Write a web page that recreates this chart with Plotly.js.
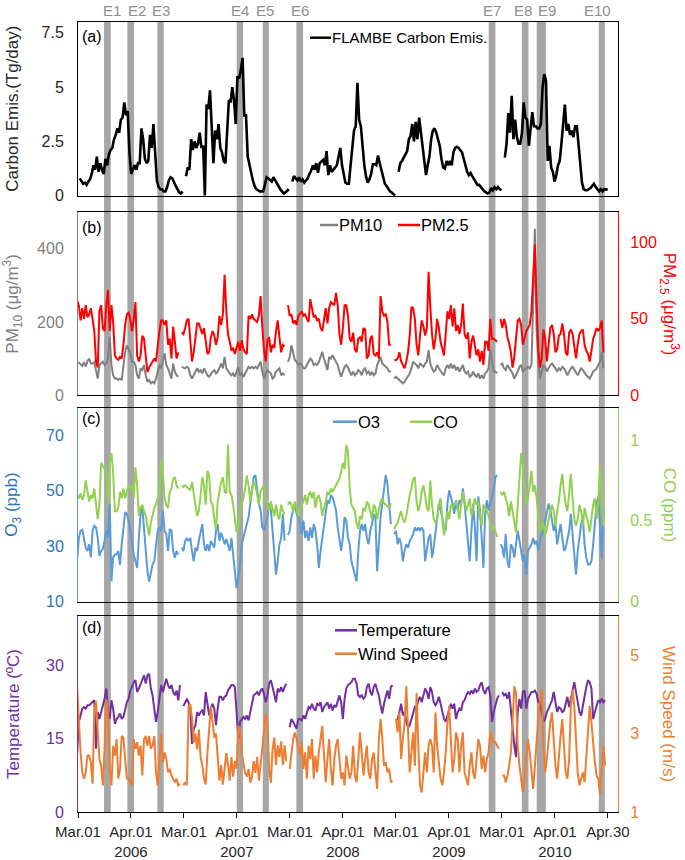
<!DOCTYPE html>
<html><head><meta charset="utf-8">
<script src="https://cdn.plot.ly/plotly-3.0.1.min.js"></script>
<style>html,body{margin:0;padding:0;background:#fff}#chart{width:685px;height:860px}</style>
</head><body><div id="chart"></div>
<script>
// ===================== DATA =====================
// x axis: day slots, Mar.01-Apr.30 of each year (61 days) plus one blank slot between years
const tickLabels = ['Mar.01','Apr.01<br>2006','Mar.01','Apr.01<br>2007','Mar.01','Apr.01<br>2008','Mar.01','Apr.01<br>2009','Mar.01','Apr.01<br>2010','Apr.30'];
const eventNames = ['E1','E2','E3','E4','E5','E6','E7','E8','E9','E10'];
const eventStart = [14.2, 27.8, 45.3, 91.6, 106.8, 126.4, 238.6, 257.9, 266.6, 302.8];
const eventEnd   = [18.1, 31.7, 49.0, 95.3, 110.3, 130.3, 242.5, 261.8, 271.9, 306.3];
const eventLabelAt = [18.7, 33.6, 47.6, 93.3, 107.9, 128.3, 240.4, 258.4, 272.5, 302.2];

// (a) FLAMBE carbon emission, Tg/day
const carbon2006 = [0.8,0.65,0.55,0.6,0.5,0.65,0.75,1.0,1.4,1.2,1.8,1.1,1.5,1.2,1.0,1.7,1.4,1.9,2.1,2.2,2.6,2.8,3.1,2.9,3.5,3.6,4.3,3.7,3.9,2.0,1.0,1.2,1.4,1.2,1.5,1.5,3.1,2.6,1.7,1.5,1.6,2.8,2.2,3.3,2.0,0.7,0.4,0.3,0.3,0.2,0.2,0.4,0.7,0.85,0.8,0.6,0.45,0.3,0.15,0.1,0.2];
const carbon2007 = [0.9,1.3,1.2,2.6,2.1,2.5,2.2,2.4,2.9,2.2,2.3,0.0,4.2,4.0,4.85,3.4,1.5,3.0,2.6,3.3,2.2,2.0,1.6,1.5,2.7,4.4,4.3,5.0,4.4,3.3,5.5,5.4,5.8,6.35,3.7,3.7,1.8,1.4,1.0,0.7,0.45,0.3,0.25,0.2,0.2,0.2,0.5,0.85,0.8,0.7,0.65,0.85,0.7,0.55,0.4,0.3,0.2,0.1,0.15,0.25,0.3];
const carbon2008 = [0.65,0.9,0.8,0.7,0.85,0.65,0.75,0.6,0.7,0.8,1.0,1.15,1.4,1.2,1.5,1.05,1.5,1.6,1.65,1.4,2.05,0.95,1.4,1.1,1.2,1.3,1.4,1.8,2.2,1.4,0.9,0.6,0.55,0.55,1.4,2.3,3.0,3.2,5.2,3.5,3.2,2.3,1.4,0.9,0.6,0.75,1.0,1.45,1.45,1.4,1.85,1.5,1.15,0.8,0.55,0.45,0.3,0.2,0.15,0.05,0.0];
const carbon2009 = [1.1,1.5,1.6,1.75,1.9,2.05,2.6,2.75,3.3,2.5,3.4,2.6,3.6,2.9,2.1,1.4,0.95,1.4,1.8,2.6,3.0,3.1,2.9,2.6,2.3,1.7,1.3,1.25,1.6,1.4,1.6,1.4,2.0,2.2,2.25,2.2,2.1,2.0,1.7,1.4,1.1,0.95,1.05,0.9,0.75,0.6,0.5,0.5,0.4,0.25,0.2,0.15,0.1,0.15,0.35,0.25,0.4,0.3,0.4,0.3,0.25];
const carbon2010 = [1.75,2.4,3.8,2.9,4.6,2.6,3.5,2.7,2.4,2.4,2.9,4.3,3.6,3.5,2.3,3.2,3.85,3.2,3.2,3.1,3.1,3.3,5.0,5.6,5.3,1.6,2.3,1.3,1.1,0.65,0.95,1.4,1.6,2.4,3.5,4.2,3.0,3.3,2.8,3.0,2.7,3.2,3.2,2.3,1.4,0.6,0.3,0.25,0.25,0.3,0.35,0.45,0.55,0.4,0.3,0.2,0.3,0.2,0.3,0.3,0.28];

// (b) PM10 and PM2.5, ug/m3
const pm10_2006 = [55,90,88,85,80,90,78,92,100,86,86,90,64,45,82,86,91,82,86,100,160,82,54,45,45,41,45,41,82,118,136,127,114,91,91,82,54,45,73,68,82,54,36,41,32,36,32,45,64,82,73,91,114,82,73,59,45,86,64,54,50];
const pm10_2007 = [77,75,73,77,73,54,45,54,64,73,64,68,59,73,64,54,50,59,64,68,59,64,73,86,73,104,73,64,59,54,59,50,64,77,54,59,50,59,64,77,73,77,73,77,73,82,91,64,45,59,68,64,59,45,50,64,68,73,54,59,54];
const pm10_2008 = [91,104,136,118,95,91,82,86,82,73,73,82,91,100,95,82,86,82,91,104,118,100,82,68,104,100,109,100,91,82,64,50,64,77,82,75,64,54,64,54,59,68,64,54,68,73,59,64,54,64,54,59,82,91,104,86,82,77,73,64,64];
const pm10_2009 = [45,50,45,41,36,32,36,45,54,59,73,91,86,82,73,86,82,77,86,91,123,86,73,64,68,82,73,64,59,54,73,82,73,86,73,82,68,77,64,73,82,64,59,64,50,54,64,54,50,59,45,54,45,59,64,73,125,91,64,64,59];
const pm10_2010 = [82,86,73,68,82,73,64,59,45,54,64,77,82,64,68,73,77,73,82,245,455,180,91,45,64,82,77,64,73,82,86,80,73,64,73,68,77,73,64,54,64,73,77,68,59,54,64,73,68,59,54,50,45,54,64,68,73,82,91,118,73];
const pm25_2006 = [30,62,59,49,57,50,59,51,53,57,50,42,22,18,55,59,44,42,59,69,42,59,48,26,24,23,25,24,33,46,53,54,50,42,49,61,26,22,26,39,37,24,15,18,20,22,24,22,33,42,49,49,46,49,33,37,24,45,35,24,28];
const pm25_2007 = [41,40,44,49,50,36,22,28,38,47,47,43,40,44,34,27,28,38,42,39,33,38,52,46,53,79,55,40,35,29,31,27,31,35,29,36,30,28,27,52,50,53,50,49,48,52,65,45,30,22,36,38,28,33,31,42,49,38,28,33,32];
const pm25_2008 = [59,52,53,47,49,46,52,54,55,52,53,50,48,63,58,51,52,49,50,44,42,50,57,47,57,61,60,59,67,59,40,33,44,59,59,52,37,35,41,30,28,37,38,35,44,43,24,26,37,39,27,26,28,24,65,55,52,53,48,33,33];
const pm25_2009 = [23,23,24,28,22,20,17.5,22,28,39,58,57,50,33,26,39,49,45,39,44,81,58,40,30,37,50,44,35,30,26,40,55,50,59,45,57,42,46,40,46,60,40,37,41,24,35,39,33,26,30,22,29,19.7,35,35,29,50,37,37,36,35];
const pm25_2010 = [50,44,50,46,38,34,28,18,25,38,49,50,46,33,38,42,44,46,55,81,99,60,30,18,24,43,37,22,33,44,46,40,28,30,39,40,47,40,28,26,41,43,40,30,24,33,40,42,43,33,29,27,22,29,37,40,44,42,44,49,28];

// (c) O3 (ppb) and CO (ppm)
const o3_2006 = [22,25,33,35.6,36,33,29.5,28.3,30.7,26,35.6,37.4,36.8,33,26.5,28.3,29,32,35.6,33,45.4,17.3,26,27,27,28.3,23.4,30.7,38,42.3,41.7,39.3,35.6,30.7,27,24.6,22.2,33,41.7,44.1,36.8,30.7,21,17.3,19.8,23.4,24.6,30.7,35.6,36.8,35.6,43,35.6,34.4,28.3,36.2,35.6,28.3,25.9,28.3,27];
const o3_2007 = [29.5,28.3,31.9,33,31.9,33,28.3,24.6,29.5,28.3,31.9,35.6,38,30.7,28.3,30.7,28.3,31.9,30.7,29.5,35.6,38,31.9,34.9,33,30.7,32.6,30.7,28.3,33,27,21,14.9,18.5,23.4,30.7,33,35.6,38,40.5,45.4,50.2,55,55.7,50.2,45.4,43,36.8,35.6,38,40.5,45.4,43,35.6,27,19.8,24.6,30.7,33,41.7,32];
const o3_2008 = [34,35.6,40.5,43,45.4,41.7,40.5,38,34.4,39.3,33,35.6,31.9,36.8,33,38,35.6,30.7,22.2,28.3,33,38,41.7,46.6,45.4,48.4,47.8,45.4,43,36.8,31.9,28.3,33,40.5,39.3,33,30.7,24.6,22.2,19.8,17.3,28.3,35.6,38,35.6,38,33,30.7,35.6,38,41.7,40.5,21,30.7,40.5,45.4,50.2,55.7,52.6,45.4,38];
const o3_2009 = [34.4,35.6,30.7,33,30.7,24.6,28.3,30.7,29.5,31.9,33,34.4,36.8,35.6,36.8,35.6,36.8,35.6,24.6,29.5,33,34.4,25.9,29.5,35.6,41.7,45.4,43,40.5,36.8,35.6,45.4,50.2,47.8,45.4,41.7,46.6,43,46.6,45.4,50.9,45.4,39.3,33,24.6,35.6,45.4,36.8,24.6,48,43,33,22.2,41.7,46.6,43,45.4,48,50.2,55,55.7];
const o3_2010 = [30.7,29.5,25.9,34.4,24.6,22.2,30.7,29.5,25.9,32,35.6,32,28.3,24.6,27,19.8,28.3,29.5,30.7,33,30.7,32,28.3,32,34.4,35.6,39.3,41.7,45.4,43,39.3,35.6,38,30.7,34.4,38,33,28.3,29.5,33,35.6,41.7,33,27,19.8,28.3,33,38,40.5,30.7,25.9,23.4,23.4,24.6,30.7,39.3,45.4,47.8,35.6,25.9,43];
const co_2006 = [0.49,0.66,0.64,0.67,0.63,0.66,0.75,0.68,0.62,0.66,0.64,0.70,0.62,0.51,0.60,0.86,0.84,0.82,0.80,0.60,0.86,0.92,0.80,0.56,0.56,0.58,0.68,0.64,0.70,0.64,0.68,0.72,0.70,0.72,0.64,0.83,0.72,0.53,0.58,0.60,0.56,0.53,0.47,0.41,0.49,0.53,0.58,0.60,0.64,0.66,0.88,0.80,0.64,0.60,0.58,0.68,0.70,0.76,0.77,0.72,0.70];
const co_2007 = [0.72,0.71,0.72,0.71,0.70,0.69,0.74,0.68,0.60,0.53,0.56,0.66,0.77,0.72,0.60,0.81,0.78,0.62,0.60,0.51,0.45,0.62,0.68,0.74,0.77,0.68,0.67,0.97,0.68,0.66,0.60,0.51,0.43,0.47,0.56,0.60,0.64,0.70,0.78,0.72,0.62,0.70,0.74,0.72,0.66,0.60,0.68,0.70,0.72,0.64,0.60,0.56,0.62,0.58,0.53,0.60,0.53,0.51,0.60,0.56,0.54];
const co_2008 = [0.60,0.62,0.60,0.56,0.62,0.58,0.53,0.56,0.60,0.62,0.66,0.60,0.66,0.68,0.64,0.68,0.58,0.64,0.66,0.62,0.53,0.58,0.62,0.68,0.66,0.70,0.68,0.70,0.72,0.74,0.76,0.80,0.86,0.82,0.97,0.93,0.70,0.60,0.58,0.56,0.49,0.45,0.53,0.51,0.58,0.56,0.62,0.60,0.56,0.51,0.60,0.58,0.51,0.56,0.62,0.64,0.61,0.60,0.59,0.58,0.61];
const co_2009 = [0.45,0.47,0.49,0.53,0.56,0.51,0.49,0.53,0.60,0.66,0.70,0.76,0.77,0.62,0.56,0.60,0.68,0.72,0.66,0.58,0.56,0.75,0.60,0.51,0.49,0.51,0.60,0.64,0.51,0.41,0.47,0.56,0.51,0.60,0.58,0.60,0.62,0.58,0.51,0.60,0.68,0.62,0.56,0.60,0.64,0.53,0.60,0.64,0.60,0.62,0.53,0.47,0.60,0.58,0.56,0.53,0.49,0.45,0.47,0.43,0.40];
const co_2010 = [0.68,0.66,0.68,0.64,0.60,0.53,0.62,0.56,0.49,0.43,0.60,0.80,0.92,0.84,0.68,0.60,0.64,0.72,0.81,0.68,0.72,0.64,0.53,0.43,0.47,0.49,0.41,0.45,0.51,0.56,0.60,0.56,0.47,0.56,0.62,0.72,0.79,0.68,0.60,0.56,0.68,0.79,0.64,0.51,0.47,0.51,0.60,0.56,0.47,0.58,0.53,0.49,0.43,0.51,0.60,0.64,0.51,0.62,0.84,0.72,0.47];

// (d) Temperature (C) and wind speed (m/s)
const temp2006 = [12.2,18.4,19.7,21.1,21.4,21.1,21.8,21.8,22.1,22.4,22.8,12.9,20.4,19.0,20.4,21.8,23.1,25.2,20.4,19.0,22.8,21.1,18.0,19.0,19.4,20.1,19.0,19.4,21.1,22.4,23.1,24.8,25.5,26.5,26.9,24.5,25.2,26.2,27.2,27.9,26.2,27.9,28.2,25.2,23.8,20.4,18.4,20.4,23.8,25.9,24.5,26.2,27.2,25.9,25.2,25.9,24.5,23.8,24.8,22.8,25.9];
const temp2007 = [21.6,22.4,23.1,22.4,21.1,13.9,17.0,17.7,20.4,19.7,20.4,20.7,19.7,24.5,21.8,19.7,21.1,22.1,21.1,17.7,21.1,23.5,23.5,22.8,23.5,23.8,24.8,25.5,25.9,25.9,25.5,20.4,15.0,18.4,19.0,19.4,19.0,19.7,18.7,20.4,22.1,23.8,24.1,24.5,23.8,24.8,25.2,24.1,22.4,23.8,26.2,26.9,25.5,23.8,22.4,25.2,24.5,25.5,24.5,25.5,26.2];
const temp2008 = [17.3,19.0,18.4,17.7,17.0,19.0,19.0,18.7,19.7,19.0,20.4,21.4,21.1,22.1,21.1,20.7,22.1,21.8,22.4,20.4,21.4,21.8,22.4,21.1,22.1,20.7,21.8,21.4,22.4,23.8,22.4,19.0,23.1,25.2,25.9,26.2,26.5,27.2,27.2,26.2,23.8,23.5,23.8,23.1,23.5,25.5,26.2,24.5,23.8,25.5,26.2,24.8,23.8,21.8,20.1,22.1,23.5,24.8,23.1,25.5,25.9];
const temp2009 = [18.7,19.0,20.4,22.1,19.7,20.4,18.4,17.3,17.7,19.0,20.4,21.4,21.1,22.8,23.5,22.4,23.8,25.2,24.5,23.1,25.5,24.5,22.4,21.8,22.4,23.5,22.1,20.4,19.0,18.4,19.7,21.1,22.1,21.1,22.1,19.0,20.4,21.1,20.7,22.4,22.8,23.8,24.5,24.1,24.8,24.1,25.2,24.5,24.8,25.9,26.5,24.8,24.1,25.2,25.5,23.8,18.4,20.4,21.8,23.1,23.8];
const temp2010 = [24.5,23.8,24.1,23.1,24.5,21.1,16.3,13.6,11.2,20.4,23.1,21.1,24.5,24.8,21.1,23.1,23.8,24.5,24.5,24.8,24.1,22.4,22.4,20.4,18.4,19.0,20.4,21.1,22.1,22.8,24.5,22.4,20.4,21.4,21.1,20.4,20.7,22.1,23.5,21.4,23.1,25.2,26.5,24.5,22.1,20.4,19.7,21.8,23.1,25.5,26.9,26.5,25.2,19.0,20.4,21.8,22.8,22.4,23.1,22.4,22.8];
const wind2006 = [4.17,3.28,2.52,2.01,1.85,2.01,2.44,2.44,2.27,1.72,3.54,3.83,3.11,2.35,2.18,1.68,2.61,3.87,3.54,2.10,1.68,2.69,2.44,2.86,1.85,2.10,2.94,2.90,2.35,1.85,1.85,1.76,1.68,2.86,2.61,2.78,2.44,2.69,1.93,2.86,2.94,2.69,2.94,2.61,2.69,2.94,2.01,1.68,2.27,2.99,2.27,2.52,2.35,2.01,2.10,1.93,1.85,1.76,1.85,1.68,1.72];
const wind2007 = [1.68,1.76,1.68,3.7,3.75,3.4,2.77,3.0,2.6,3.1,2.4,2.2,1.85,1.7,2.5,3.2,3.7,3.3,2.9,3.0,2.3,1.8,2.2,1.7,2.1,2.5,2.2,1.8,2.4,1.9,2.3,2.1,3.2,3.1,2.5,2.2,2.0,1.9,2.1,1.75,1.9,2.3,2.0,2.4,1.8,2.2,2.6,3.1,3.5,3.3,2.1,1.75,2.6,2.9,2.2,2.7,2.4,2.8,2.2,2.7,2.3];
const wind2008 = [2.10,2.44,2.86,3.03,2.86,2.61,2.44,2.78,2.10,2.52,1.85,2.69,2.35,2.86,1.85,2.44,2.01,2.52,2.86,3.20,2.44,1.76,2.35,2.86,2.10,1.68,2.35,2.69,2.86,2.27,1.85,2.01,1.68,2.44,2.18,1.85,2.01,2.69,1.93,1.76,2.35,3.03,2.52,1.93,2.35,2.69,2.01,1.85,2.35,2.52,2.01,1.59,2.86,3.37,2.86,2.18,2.27,2.01,2.10,1.76,1.80];
const wind2009 = [3.37,3.03,3.54,2.35,2.86,3.28,4.21,3.03,2.01,2.52,3.03,2.18,4.04,2.69,1.68,1.50,2.01,2.52,2.01,2.69,2.86,2.69,2.01,3.54,2.69,2.18,1.85,1.68,2.01,2.52,3.28,3.70,2.69,2.01,2.35,3.03,2.86,2.01,2.69,3.03,2.01,1.85,1.68,2.18,2.52,2.01,1.85,2.35,2.86,2.69,2.10,2.44,2.01,2.35,2.52,3.03,2.86,2.78,2.78,2.69,2.61];
const wind2010 = [1.93,1.93,1.76,1.93,2.18,2.52,3.28,4.21,4.04,2.69,2.18,1.85,1.50,1.85,2.44,2.86,2.52,2.01,1.59,2.18,2.86,3.37,3.87,4.13,2.69,2.01,2.35,2.86,3.28,3.54,2.69,2.18,1.85,2.52,2.94,3.37,2.69,2.01,1.85,2.35,3.70,4.13,3.70,2.69,2.01,1.68,1.85,2.01,1.76,2.35,3.03,3.70,3.28,2.69,2.27,1.93,1.85,1.46,2.01,2.69,2.18];

// ===================== BUILD =====================
function joinYears(chunks){ const y=[]; chunks.forEach((c,k)=>{ if(k) y.push(null); y.push(...c); }); return y; }
function slots(n, shift){ return Array.from({length:n}, (_, i) => i + shift); }

const FONT = 'Liberation Sans, Arial, sans-serif';
// horizontal placement of the station series relative to the emission series (as drawn in the original)
const SHIFT_AQ = -2.5, SHIFT_MET = -1.5;

const carbon = joinYears([carbon2006,carbon2007,carbon2008,carbon2009,carbon2010]);
const pm10 = joinYears([pm10_2006,pm10_2007,pm10_2008,pm10_2009,pm10_2010]);
const pm25 = joinYears([pm25_2006,pm25_2007,pm25_2008,pm25_2009,pm25_2010]);
const o3 = joinYears([o3_2006,o3_2007,o3_2008,o3_2009,o3_2010]);
const co = joinYears([co_2006,co_2007,co_2008,co_2009,co_2010]);
const temp = joinYears([temp2006,temp2007,temp2008,temp2009,temp2010]);
const wind = joinYears([wind2006,wind2007,wind2008,wind2009,wind2010]);

const C = {black:'#000000', gray:'#808080', red:'#ff0000', blue:'#5b9bd5', blueT:'#2f75b5', green:'#92d050', purple:'#7030a0', orange:'#ed7d31', band:'#a6a6a6'};

const traces = [
  {x: slots(carbon.length,0), y: carbon, xaxis:'x', yaxis:'y', mode:'lines', line:{color:C.black,width:2.6}},
  {x: slots(pm10.length,SHIFT_AQ), y: pm10, xaxis:'x2', yaxis:'y2', mode:'lines', line:{color:C.gray,width:2}},
  {x: slots(pm25.length,SHIFT_AQ), y: pm25, xaxis:'x2', yaxis:'y3', mode:'lines', line:{color:C.red,width:2}},
  {x: slots(o3.length,SHIFT_AQ), y: o3, xaxis:'x3', yaxis:'y4', mode:'lines', line:{color:C.blue,width:2}},
  {x: slots(co.length,SHIFT_AQ), y: co, xaxis:'x3', yaxis:'y5', mode:'lines', line:{color:C.green,width:2}},
  {x: slots(temp.length,SHIFT_MET), y: temp, xaxis:'x4', yaxis:'y6', mode:'lines', line:{color:C.purple,width:2}},
  {x: slots(wind.length,SHIFT_MET), y: wind, xaxis:'x4', yaxis:'y7', mode:'lines', line:{color:C.orange,width:2}}
];

// pixel geometry helpers
const ML=78, MR=67, MT=22, MB=48, W=685, H=860;
const PW=W-ML-MR, PH=H-MT-MB;
const px2x = p => (p-ML)/PW;
const px2y = p => (H-MB-p)/PH;
const dom = (top,bot) => [Math.max(0,px2y(bot)), Math.min(1,px2y(top))];
const D = {a:dom(22,195.7), b:dom(212.3,395), c:dom(407.7,601.7), d:dom(616,812)};

const XR = [-1, 314];
const tickvals = tickLabels.map((_,k)=> -1 + k*30.91);
function xax(anchor, bottom){
  const o = {anchor, range:XR, showgrid:false, zeroline:false, showline:true, linecolor:'#000', linewidth:1, mirror:true,
    tickvals, ticktext:tickLabels, showticklabels:!!bottom, ticks: bottom?'outside':'', ticklen:5, tickcolor:'#000',
    tickfont:{family:FONT,size:15,color:'#262626'}};
  if (bottom) o.ticklabelstandoff = 1;
  if (anchor!=='y') o.matches = 'x';
  return o;
}
function yax(domain, range, tv, color, side, overlay, anchor){
  const o = {range, tickvals:tv, showgrid:false, zeroline:false, showline:true, linecolor:color, linewidth:1, ticks:'',
    tickfont:{family:FONT,size:16,color: color==='#000'?'#262626':color}, ticklabelstandoff: side==='right'?8:10};
  if (overlay){ o.overlaying=overlay; o.side='right'; o.anchor=anchor; } else { o.domain=domain; o.anchor=anchor; }
  return o;
}

const shapes = [];
const annotations = [];
eventNames.forEach((n,i)=>{
  shapes.push({type:'rect', xref:'x', yref:'paper', x0:eventStart[i], x1:eventEnd[i], y0:0, y1:1, fillcolor:C.band, line:{width:0}, layer:'below'});
  annotations.push({xref:'x', yref:'paper', x:eventLabelAt[i], y:1, yanchor:'bottom', yshift:2, text:n, showarrow:false, borderpad:0, font:{family:FONT,size:15,color:'#8f8f8f'}});
});

function legend(x0,x1,y,color,text,size){
  shapes.push({type:'line', xref:'paper', yref:'paper', x0:px2x(x0), x1:px2x(x1), y0:px2y(y), y1:px2y(y), line:{color,width:2.5}, layer:'above'});
  annotations.push({xref:'paper', yref:'paper', x:px2x(x1), y:px2y(y), xanchor:'left', yanchor:'middle', text, showarrow:false, borderpad:0, font:{family:FONT,size,color:'#000'}});
}
legend(310,331,37.7,C.black,'FLAMBE Carbon Emis.',15);
legend(320,338,225,C.gray,'PM10',16.5);
legend(398,420,225,C.red,'PM2.5',16.5);
legend(333,357,421.7,C.blue,'O3',16.5);
legend(410,432,421.7,C.green,'CO',16.5);
legend(335,357,630.3,C.purple,'Temperature',16.5);
legend(335,357,653.7,C.orange,'Wind Speed',16.5);

[['(a)',37],['(b)',227.5],['(c)',418.5],['(d)',627]].forEach(([t,y])=>{
  annotations.push({xref:'paper', yref:'paper', x:px2x(80), y:px2y(y), xanchor:'left', yanchor:'middle', text:t, showarrow:false, font:{family:FONT,size:16,color:'#000'}});
});

function ytitle(text, side, domain, color){
  annotations.push({xref:'paper', yref:'paper', x: side==='left'?px2x(13):px2x(669), y:(domain[0]+domain[1])/2, xanchor:'center', yanchor:'middle',
    textangle: side==='left'?-90:90, text, showarrow:false, font:{family:FONT,size:17,color}});
}
ytitle('Carbon Emis.(Tg/day)','left',D.a,'#262626');
ytitle('PM<sub>10</sub> (μg/m<sup>3</sup>)','left',D.b,C.gray);
ytitle('PM<sub>2.5</sub> (μg/m<sup>3</sup>)','right',D.b,C.red);
ytitle('O<sub>3</sub> (ppb)','left',D.c,C.blueT);
ytitle('CO (ppm)','right',D.c,C.green);
ytitle('Temperature (ºC)','left',D.d,C.purple);
ytitle('Wind Speed (m/s)','right',D.d,C.orange);

const layout = {
  width:W, height:H, margin:{l:ML,r:MR,t:MT,b:MB}, showlegend:false,
  paper_bgcolor:'#ffffff', plot_bgcolor:'rgba(0,0,0,0)', font:{family:FONT,size:15,color:'#262626'},
  xaxis: xax('y', false), xaxis2: xax('y2', false), xaxis3: xax('y4', false), xaxis4: xax('y6', true),
  yaxis: Object.assign(yax(D.a,[0,8],[0,2.5,5,7.5],'#000',null,null,'x'),{mirror:true}),
  yaxis2: yax(D.b,[0,500],[0,200,400],C.gray,null,null,'x2'),
  yaxis3: yax(null,[0,120],[0,50,100],C.red,'right','y2','x2'),
  yaxis4: Object.assign(yax(D.c,[10,80],[10,30,50,70],C.blue,null,null,'x3'),{tickfont:{family:FONT,size:16,color:C.blueT}}),
  yaxis5: Object.assign(yax(null,[0,1.2],[0,0.5,1],C.green,'right','y4','x3'),{ticktext:['0','0.5','1']}),
  yaxis6: yax(D.d,[0,40],[0,15,30],C.purple,null,null,'x4'),
  yaxis7: yax(null,[1,6],[1,3,5],C.orange,'right','y6','x4'),
  shapes, annotations
};

Plotly.newPlot('chart', traces, layout, {displayModeBar:false, staticPlot:true});
</script>
</body></html>
